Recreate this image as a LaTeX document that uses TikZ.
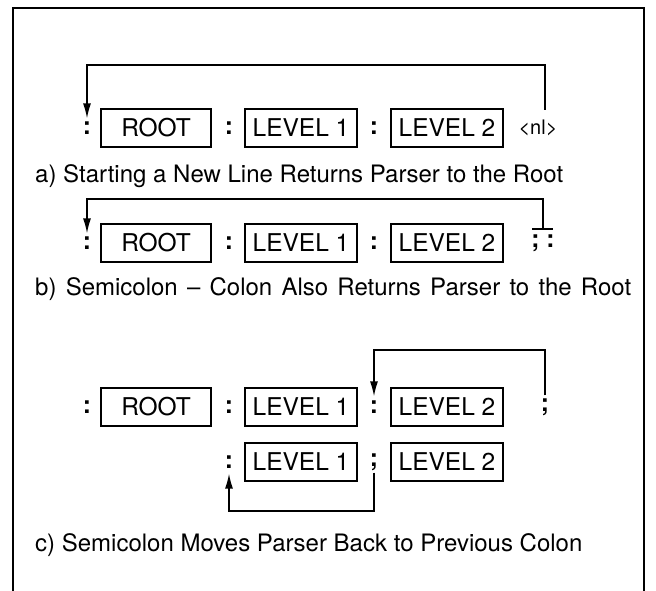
\documentclass[tikz,border=0pt]{standalone}
\usepackage{fontspec}
\setmainfont{TeX Gyre Heros}
\usetikzlibrary{arrows.meta}
\begin{document}
\begin{tikzpicture}[x=1pt,y=-1pt,
  box/.style={draw, line width=1.6pt, minimum height=38pt, inner sep=0pt,
    font=\fontsize{24.5}{27}\selectfont},
  rootbox/.style={box, minimum width=110pt},
  lvlbox/.style={box, minimum width=112pt},
  punct/.style={font=\fontsize{24.5}{27}\selectfont\bfseries, inner sep=0pt},
  small/.style={font=\fontsize{20}{22}\selectfont, inner sep=0pt},
  caption/.style={font=\fontsize{24}{27}\selectfont, anchor=west, inner sep=0pt},
  conn/.style={line width=1.5pt},
  tip/.style={-{Latex[length=15pt,width=8pt]}}
]
\useasboundingbox (0,0) rectangle (656,591);
\draw[line width=2pt] (13,591) -- (13,8) -- (644,8) -- (644,591);

% ---- a ----
\node[punct] (ac0) at (87,128) {:};
\node[rootbox] (aR) at (156,128) {ROOT};
\node[punct] (ac1) at (229,128) {:};
\node[lvlbox] (aL1) at (301,128) {LEVEL 1};
\node[punct] (ac2) at (374,128) {:};
\node[lvlbox] (aL2) at (447,128) {LEVEL 2};
\node[small] (anl) at (538,128) {<nl>};
\coordinate (aS) at (545,110);
\coordinate (aT) at (545,65);
\draw[conn,tip] (aS) -- (aT) -| ([yshift=3pt]ac0.north);
\node[caption] (capa) at (35,176) {a) Starting a New Line Returns Parser to the Root};

% ---- b ----
\node[punct] (bc0) at (87,243) {:};
\node[rootbox] (bR) at (156,243) {ROOT};
\node[punct] (bc1) at (229,243) {:};
\node[lvlbox] (bL1) at (301,243) {LEVEL 1};
\node[punct] (bc2) at (374,243) {:};
\node[lvlbox] (bL2) at (447,243) {LEVEL 2};
\node[punct] (bsc) at (543,243) {;\hspace{7pt}:};
\coordinate (bS) at (543,229);
\coordinate (bT) at (543,199);
\draw[conn] (532,229) -- (553,229);
\draw[conn,tip] (bS) -- (bT) -| ([yshift=3pt]bc0.north);
\node[caption] (capb) at (35,289) {\makebox[596pt][s]{b) Semicolon -- Colon Also Returns Parser to the Root}};

% ---- c ----
\node[punct] (cc0) at (87,407) {:};
\node[rootbox] (cR) at (156,407) {ROOT};
\node[punct] (cc1) at (229,407) {:};
\node[lvlbox] (cL1) at (301,407) {LEVEL 1};
\node[punct] (cc2) at (374,407) {:};
\node[lvlbox] (cL2) at (447,407) {LEVEL 2};
\node[punct] (csc) at (545,407) {;};
\coordinate (cT) at (545,350);
\draw[conn,tip] ([yshift=3pt]csc.north) -- (cT) -| ([yshift=4pt]cc2.north);

\node[punct] (dc1) at (229,462) {:};
\node[lvlbox] (dL1) at (301,462) {LEVEL 1};
\node[punct] (dsc) at (374,462) {;};
\node[lvlbox] (dL2) at (447,462) {LEVEL 2};
\coordinate (dB) at (374,511);
\draw[conn,tip] ([yshift=-2pt]dsc.south) -- (dB) -| ([yshift=-5pt]dc1.south);
\node[caption] (capc) at (35,545) {c) Semicolon Moves Parser Back to Previous Colon};
\end{tikzpicture}
\end{document}
